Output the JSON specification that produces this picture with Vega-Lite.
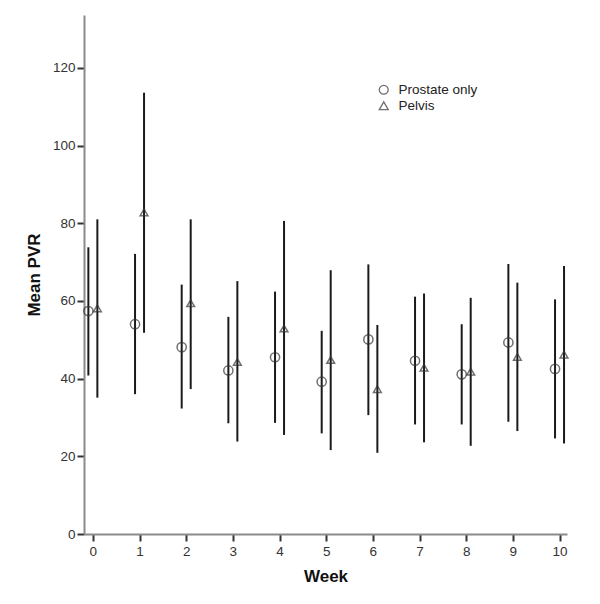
{
  "$schema": "https://vega.github.io/schema/vega-lite/v6.json",
  "autosize": "none",
  "padding": {"left": 84, "top": 15, "right": 33, "bottom": 70},
  "width": 483,
  "height": 519,
  "background": "white",
  "config": {
    "view": {"stroke": null},
    "font": "Liberation Sans",
    "axis": {
      "grid": false,
      "domainColor": "#8a8a8a",
      "domainWidth": 2,
      "tickColor": "#333",
      "tickWidth": 2,
      "tickSize": 7,
      "labelFont": "Liberation Sans",
      "labelFontSize": 13.5,
      "labelColor": "#333",
      "titleFont": "Liberation Sans",
      "titleFontSize": 17,
      "titleFontWeight": "bold",
      "titleColor": "#111"
    }
  },
  "data": {
    "values": [
      {"week": 0, "group": "Prostate only", "mean": 57.4, "lo": 40.8, "hi": 73.8},
      {"week": 0, "group": "Pelvis", "mean": 58.1, "lo": 35.1, "hi": 81.0},
      {"week": 1, "group": "Prostate only", "mean": 54.0, "lo": 36.0, "hi": 72.1},
      {"week": 1, "group": "Pelvis", "mean": 82.8, "lo": 51.8, "hi": 113.6},
      {"week": 2, "group": "Prostate only", "mean": 48.1, "lo": 32.3, "hi": 64.2},
      {"week": 2, "group": "Pelvis", "mean": 59.4, "lo": 37.3, "hi": 81.0},
      {"week": 3, "group": "Prostate only", "mean": 42.1, "lo": 28.5, "hi": 55.9},
      {"week": 3, "group": "Pelvis", "mean": 44.3, "lo": 23.8, "hi": 65.1},
      {"week": 4, "group": "Prostate only", "mean": 45.5, "lo": 28.6, "hi": 62.4},
      {"week": 4, "group": "Pelvis", "mean": 52.9, "lo": 25.5, "hi": 80.6},
      {"week": 5, "group": "Prostate only", "mean": 39.2, "lo": 25.9, "hi": 52.3},
      {"week": 5, "group": "Pelvis", "mean": 44.8, "lo": 21.6, "hi": 67.9},
      {"week": 6, "group": "Prostate only", "mean": 50.1, "lo": 30.6, "hi": 69.4},
      {"week": 6, "group": "Pelvis", "mean": 37.3, "lo": 20.9, "hi": 53.8},
      {"week": 7, "group": "Prostate only", "mean": 44.6, "lo": 28.2, "hi": 61.1},
      {"week": 7, "group": "Pelvis", "mean": 42.8, "lo": 23.6, "hi": 61.9},
      {"week": 8, "group": "Prostate only", "mean": 41.1, "lo": 28.2, "hi": 54.0},
      {"week": 8, "group": "Pelvis", "mean": 41.8, "lo": 22.7, "hi": 60.8},
      {"week": 9, "group": "Prostate only", "mean": 49.3, "lo": 28.9, "hi": 69.5},
      {"week": 9, "group": "Pelvis", "mean": 45.6, "lo": 26.5, "hi": 64.7},
      {"week": 10, "group": "Prostate only", "mean": 42.5, "lo": 24.6, "hi": 60.4},
      {"week": 10, "group": "Pelvis", "mean": 46.2, "lo": 23.3, "hi": 69.0}
    ]
  },
  "encoding": {
    "x": {
      "field": "week", "type": "quantitative",
      "scale": {"domain": [-0.19, 10.16], "nice": false, "zero": false},
      "axis": {"values": [0,1,2,3,4,5,6,7,8,9,10], "title": "Week", "titlePadding": 11, "labelPadding": 3}
    }
  },
  "layer": [
    {
      "transform": [{"filter": "datum.group == 'Prostate only'"}],
      "mark": {"type": "rule", "xOffset": -4.5, "strokeWidth": 2, "color": "#1a1a1a"},
      "encoding": {
        "y": {"field": "lo", "type": "quantitative",
              "scale": {"domain": [0, 133.6], "nice": false},
              "axis": {"values": [0,20,40,60,80,100,120], "title": "Mean PVR", "titlePadding": 9, "labelPadding": 2}},
        "y2": {"field": "hi"}
      }
    },
    {
      "transform": [{"filter": "datum.group == 'Pelvis'"}],
      "mark": {"type": "rule", "xOffset": 4.5, "strokeWidth": 2, "color": "#1a1a1a"},
      "encoding": {
        "y": {"field": "lo", "type": "quantitative"},
        "y2": {"field": "hi"}
      }
    },
    {
      "transform": [{"filter": "datum.group == 'Prostate only'"}],
      "mark": {"type": "point", "xOffset": -4.5, "filled": false, "strokeWidth": 1.5, "color": "#333"},
      "encoding": {
        "y": {"field": "mean", "type": "quantitative"},
        "shape": {"field": "group", "type": "nominal",
                  "scale": {"domain": ["Prostate only", "Pelvis"], "range": ["circle", "triangle-up"]},
                  "legend": {"title": null, "orient": "none", "legendX": 293, "legendY": 68, "labelFontSize": 13.5, "labelFont": "Liberation Sans", "labelColor": "#222", "symbolStrokeColor": "#333", "symbolStrokeWidth": 1.3, "symbolSize": 80, "symbolType": "circle", "rowPadding": 1, "labelOffset": 8}},
        "size": {"value": 85}
      }
    },
    {
      "transform": [{"filter": "datum.group == 'Pelvis'"}],
      "mark": {"type": "point", "xOffset": 4.5, "filled": false, "strokeWidth": 1.5, "color": "#333"},
      "encoding": {
        "y": {"field": "mean", "type": "quantitative"},
        "shape": {"field": "group", "type": "nominal"},
        "size": {"value": 60}
      }
    }
  ]
}
